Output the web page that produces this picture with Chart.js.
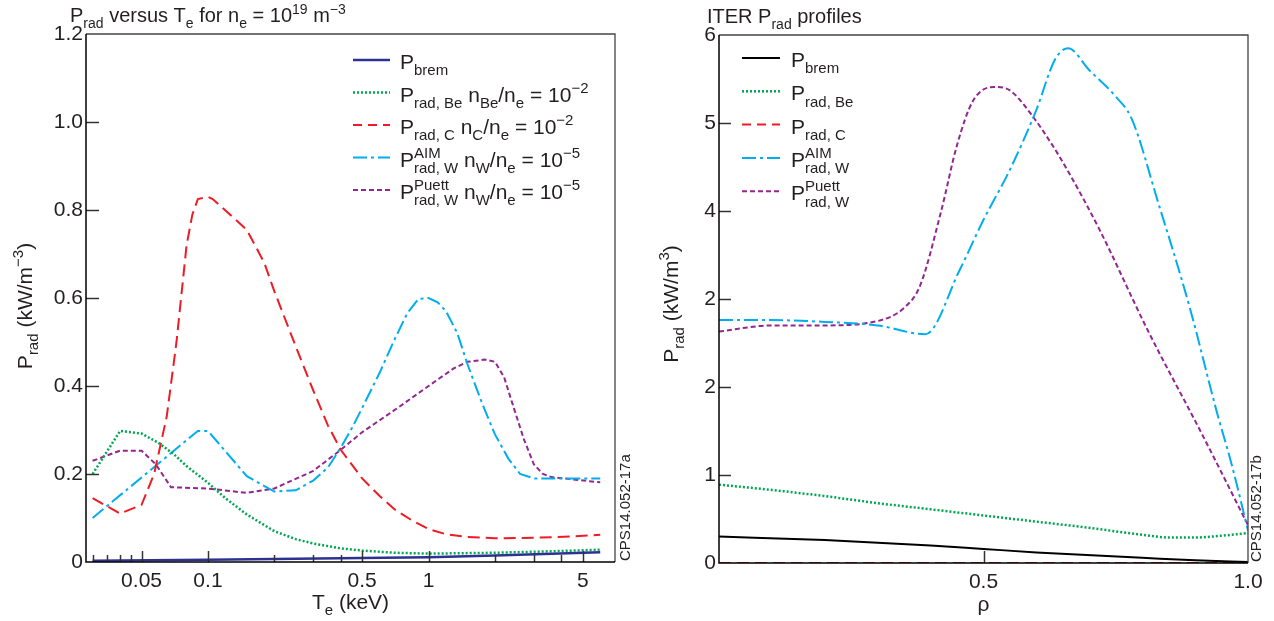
<!DOCTYPE html>
<html>
<head>
<meta charset="utf-8">
<script src="https://cdn.jsdelivr.net/npm/chart.js@4.4.1/dist/chart.umd.min.js"></script>
<style>
  html, body { margin: 0; padding: 0; background: #fff; }
  #wrap { position: relative; width: 1274px; height: 621px; }
  .panel { position: absolute; top: 0; height: 621px; }
  #left { left: 0; width: 640px; }
  #right { left: 640px; width: 634px; }
</style>
</head>
<body>
<div id="wrap">
  <div class="panel" id="left"><canvas id="c1"></canvas></div>
  <div class="panel" id="right"><canvas id="c2"></canvas></div>
</div>
<script>
// ---- left panel: P_rad versus T_e (keV), log x axis
const teTicks = [0.03, 0.035, 0.04, 0.045, 0.05, 0.1, 0.2, 0.3, 0.4, 0.5, 1, 2, 3, 4, 5];
const teTickLabels = ['', '', '', '', '0.05', '0.1', '', '', '', '0.5', '1', '', '', '', '5'];
const pTicksLeft = [0, 0.2, 0.4, 0.6, 0.8, 1.0, 1.2];
const pTickLabelsLeft = ['0', '0.2', '0.4', '0.6', '0.8', '1.0', '1.2'];

const teBrem = [0.03, 0.1, 0.5, 1, 2, 6];
const pBrem = [0.003, 0.005, 0.009, 0.011, 0.015, 0.022];

const teBe = [0.03, 0.04, 0.05, 0.06, 0.07, 0.08, 0.1, 0.12, 0.15, 0.2, 0.25, 0.3, 0.4, 0.5, 0.7, 1.0, 2.0, 4.0, 6.0];
const pBe = [0.2, 0.298, 0.292, 0.27, 0.245, 0.218, 0.18, 0.145, 0.108, 0.07, 0.052, 0.042, 0.031, 0.026, 0.021, 0.019, 0.021, 0.025, 0.028];

const teC = [0.03, 0.04, 0.05, 0.057, 0.065, 0.072, 0.08, 0.085, 0.09, 0.1, 0.105, 0.15, 0.18, 0.2, 0.25, 0.3, 0.35, 0.4, 0.5, 0.6, 0.7, 0.85, 1.0, 1.2, 1.5, 2.0, 3.0, 4.5, 6.0];
const pC = [0.145, 0.11, 0.13, 0.2, 0.33, 0.5, 0.72, 0.79, 0.825, 0.83, 0.825, 0.755, 0.68, 0.615, 0.49, 0.39, 0.31, 0.255, 0.19, 0.15, 0.12, 0.093, 0.075, 0.063, 0.057, 0.054, 0.055, 0.058, 0.062];

const teAim = [0.03, 0.09, 0.1, 0.15, 0.2, 0.25, 0.3, 0.35, 0.4, 0.45, 0.5, 0.6, 0.7, 0.8, 0.9, 1.0, 1.1, 1.2, 1.35, 1.5, 1.75, 2.0, 2.3, 2.6, 3.0, 6.0];
const pAim = [0.10, 0.298, 0.298, 0.195, 0.16, 0.163, 0.185, 0.215, 0.26, 0.305, 0.35, 0.43, 0.505, 0.565, 0.598, 0.6, 0.59, 0.57, 0.52, 0.45, 0.36, 0.29, 0.235, 0.2, 0.19, 0.19];

const tePuett = [0.03, 0.04, 0.05, 0.058, 0.068, 0.1, 0.15, 0.2, 0.3, 0.4, 0.5, 0.7, 1.0, 1.3, 1.5, 1.8, 2.0, 2.2, 2.4, 2.7, 3.0, 3.3, 3.6, 6.0];
const pPuett = [0.23, 0.253, 0.253, 0.222, 0.17, 0.167, 0.157, 0.167, 0.207, 0.255, 0.295, 0.345, 0.40, 0.44, 0.455, 0.46, 0.455, 0.42, 0.36, 0.28, 0.222, 0.2, 0.193, 0.181];

// ---- right panel: ITER P_rad profiles vs rho
const rhoTicks = [0.5, 1.0];
const rhoTickLabels = ['0.5', '1.0'];
const pTicksRight = [0, 1, 2, 3, 4, 5, 6];
const pTickLabelsRight = ['0', '1', '2', '2', '4', '5', '6'];   // as printed in the original

const rhoBrem = [0, 0.2, 0.4, 0.5, 0.6, 0.8, 0.9, 1.0];
const prBrem = [0.3, 0.26, 0.2, 0.16, 0.12, 0.06, 0.03, 0.01];

const rhoBe = [0, 0.1, 0.2, 0.3, 0.4, 0.5, 0.6, 0.7, 0.8, 0.85, 0.9, 0.95, 1.0];
const prBe = [0.89, 0.83, 0.76, 0.68, 0.61, 0.54, 0.47, 0.4, 0.32, 0.29, 0.29, 0.31, 0.34];

const rhoC = [0, 1.0];
const prC = [0, 0];

const rhoAim = [0, 0.1, 0.2, 0.3, 0.39, 0.455, 0.5, 0.55, 0.6, 0.635, 0.66, 0.7, 0.75, 0.78, 0.83, 0.89, 0.94, 0.97, 1.0];
const prAim = [2.76, 2.76, 2.74, 2.7, 2.6, 3.33, 3.9, 4.47, 5.15, 5.72, 5.85, 5.6, 5.3, 5.05, 4.1, 2.9, 1.74, 1.1, 0.37];

const rhoPuett = [0, 0.1, 0.2, 0.3, 0.35, 0.38, 0.42, 0.45, 0.48, 0.52, 0.55, 0.59, 0.63, 0.66, 0.72, 0.81, 0.91, 1.0];
const prPuett = [2.63, 2.7, 2.7, 2.75, 2.9, 3.15, 4.0, 4.75, 5.25, 5.41, 5.37, 5.1, 4.75, 4.45, 3.78, 2.65, 1.5, 0.43];

const FONT = "'Liberation Sans', Arial, sans-serif";
const INK = '#231f20';
Chart.defaults.font.family = FONT;
Chart.defaults.font.size = 21;
Chart.defaults.color = INK;

function pts(xs, ys) {
    return xs.map((x, i) => ({ x: x, y: ys[i] }));
}

// rich text: strings are normal, objects carry sub / sup parts
function richWidth(ctx, segs, size) {
    let w = 0;
    for (const s of segs) {
        if (typeof s === 'string') {
            ctx.font = size + 'px ' + FONT;
            w += ctx.measureText(s).width;
        } else {
            ctx.font = Math.round(size * 0.7) + 'px ' + FONT;
            const a = s.sub ? ctx.measureText(s.sub).width : 0;
            const b = s.sup ? ctx.measureText(s.sup).width : 0;
            w += Math.max(a, b);
        }
    }
    return w;
}

function drawRich(ctx, segs, x, y, size) {
    let cx = x;
    ctx.textAlign = 'left';
    ctx.textBaseline = 'alphabetic';
    ctx.fillStyle = INK;
    for (const s of segs) {
        if (typeof s === 'string') {
            ctx.font = size + 'px ' + FONT;
            ctx.fillText(s, cx, y);
            cx += ctx.measureText(s).width;
        } else {
            ctx.font = Math.round(size * 0.7) + 'px ' + FONT;
            let w = 0;
            if (s.sub) {
                ctx.fillText(s.sub, cx, y + size * 0.3);
                w = ctx.measureText(s.sub).width;
            }
            if (s.sup) {
                ctx.fillText(s.sup, cx, y - size * 0.42);
                w = Math.max(w, ctx.measureText(s.sup).width);
            }
            cx += w;
        }
    }
}

// frame, inward ticks, titles, legend and the figure code
const decoPlugin = {
    id: 'deco',
    afterDraw(chart, args, opts) {
        const ctx = chart.ctx;
        const a = chart.chartArea;
        const xs = chart.scales.x, ys = chart.scales.y;
        ctx.save();

        // inward ticks
        ctx.strokeStyle = '#333';
        ctx.lineWidth = 1.5;
        ctx.setLineDash([]);
        ys.ticks.forEach(t => {
            const py = Math.round(ys.getPixelForValue(t.value)) + 0.5;
            if (py < a.top + 2 || py > a.bottom - 2) return;
            ctx.beginPath();
            ctx.moveTo(a.left, py);
            ctx.lineTo(a.left + opts.tickY, py);
            ctx.stroke();
        });
        xs.ticks.forEach(t => {
            const px = Math.round(xs.getPixelForValue(t.value)) + 0.5;
            if (px < a.left + 2 || px > a.right - 2) return;
            const len = t.label ? opts.tickXMajor : opts.tickXMinor;
            ctx.beginPath();
            ctx.moveTo(px, a.bottom);
            ctx.lineTo(px, a.bottom - len);
            ctx.stroke();
        });

        // frame
        ctx.strokeStyle = '#444';
        ctx.lineWidth = 1.3;
        ctx.beginPath();
        ctx.moveTo(a.left, a.top);
        ctx.lineTo(a.right, a.top);
        ctx.lineTo(a.right, a.bottom);
        ctx.stroke();
        ctx.strokeStyle = '#000';
        ctx.lineWidth = 1.5;
        ctx.beginPath();
        ctx.moveTo(a.left, a.top);
        ctx.lineTo(a.left, a.bottom);
        ctx.lineTo(a.right, a.bottom);
        ctx.stroke();

        // titles
        drawRich(ctx, opts.title.segs, opts.title.x, opts.title.y, opts.title.size);
        const xw = richWidth(ctx, opts.xTitle.segs, opts.xTitle.size);
        drawRich(ctx, opts.xTitle.segs, (a.left + a.right) / 2 - xw / 2, opts.xTitle.y, opts.xTitle.size);
        const yw = richWidth(ctx, opts.yTitle.segs, opts.yTitle.size);
        ctx.save();
        ctx.translate(opts.yTitle.x, opts.yTitle.y);
        ctx.rotate(-Math.PI / 2);
        drawRich(ctx, opts.yTitle.segs, -yw / 2, 0, opts.yTitle.size);
        ctx.restore();

        // legend
        const lg = opts.legend;
        lg.entries.forEach((segs, i) => {
            const ds = chart.data.datasets[i];
            const ly = lg.y + i * lg.dy;
            ctx.strokeStyle = ds.borderColor;
            ctx.lineWidth = ds.borderWidth;
            ctx.setLineDash(ds.legendDash || ds.borderDash || []);
            ctx.beginPath();
            ctx.moveTo(lg.x, ly);
            ctx.lineTo(lg.x + lg.len, ly);
            ctx.stroke();
            ctx.setLineDash([]);
            drawRich(ctx, segs, lg.x + lg.len + lg.gap, ly + 9, lg.size);
        });

        // figure code, vertical
        ctx.save();
        ctx.translate(opts.code.x, a.bottom - 1);
        ctx.rotate(-Math.PI / 2);
        ctx.font = '15px ' + FONT;
        ctx.fillStyle = INK;
        ctx.textAlign = 'left';
        ctx.textBaseline = 'alphabetic';
        ctx.fillText(opts.code.text, 0, 0);
        ctx.restore();

        ctx.restore();
    }
};

function axisCommon() {
    return {
        grid: { display: false, drawTicks: false },
        border: { display: false }
    };
}

// ---------------- left chart (straight segments between the points)
new Chart(document.getElementById('c1'), {
    type: 'line',
    data: {
        datasets: [
            { data: pts(teBrem, pBrem), borderColor: '#2e3192', borderWidth: 2.5 },
            { data: pts(teBe, pBe), borderColor: '#00a651', borderWidth: 2.5, borderDash: [2, 2] },
            { data: pts(teC, pC), borderColor: '#ed1c24', borderWidth: 2, borderDash: [12, 6], legendDash: [9, 6] },
            { data: pts(teAim, pAim), borderColor: '#00aeef', borderWidth: 2, borderDash: [14, 4, 3, 4] },
            { data: pts(tePuett, pPuett), borderColor: '#92278f', borderWidth: 2, borderDash: [5, 3] }
        ]
    },
    options: {
        responsive: true,
        maintainAspectRatio: false,
        animation: false,
        devicePixelRatio: 1,
        layout: { padding: { left: 0, top: 34, right: 25, bottom: 0 } },
        elements: { point: { radius: 0 }, line: { tension: 0, fill: false } },
        plugins: {
            legend: { display: false },
            tooltip: { enabled: false },
            deco: {
                tickY: 13, tickXMajor: 11, tickXMinor: 7,
                title: { segs: ['P', { sub: 'rad' }, ' versus T', { sub: 'e' }, ' for n', { sub: 'e' }, ' = 10', { sup: '19' }, ' m', { sup: '\u22123' }], x: 70, y: 22, size: 20 },
                xTitle: { segs: ['T', { sub: 'e' }, ' (keV)'], y: 609, size: 21 },
                yTitle: { segs: ['P', { sub: 'rad' }, ' (kW/m', { sup: '\u22123' }, ')'], x: 32, y: 306, size: 21 },
                legend: {
                    x: 353, y: 60, dy: 32.5, len: 37, gap: 10, size: 21,
                    entries: [
                        ['P', { sub: 'brem' }],
                        ['P', { sub: 'rad, Be' }, ' n', { sub: 'Be' }, '/n', { sub: 'e' }, ' = 10', { sup: '\u22122' }],
                        ['P', { sub: 'rad, C' }, ' n', { sub: 'C' }, '/n', { sub: 'e' }, ' = 10', { sup: '\u22122' }],
                        ['P', { sub: 'rad, W', sup: 'AIM' }, ' n', { sub: 'W' }, '/n', { sub: 'e' }, ' = 10', { sup: '\u22125' }],
                        ['P', { sub: 'rad, W', sup: 'Puett' }, ' n', { sub: 'W' }, '/n', { sub: 'e' }, ' = 10', { sup: '\u22125' }]
                    ]
                },
                code: { text: 'CPS14.052-17a', x: 630 }
            }
        },
        scales: {
            x: Object.assign(axisCommon(), {
                type: 'logarithmic',
                min: 0.028,
                max: 7,
                afterBuildTicks: s => { s.ticks = teTicks.map(v => ({ value: v })); },
                afterFit: s => { s.height = 59; },
                ticks: { autoSkip: false, maxRotation: 0, padding: 7, callback: (v, i) => teTickLabels[i] }
            }),
            y: Object.assign(axisCommon(), {
                type: 'linear',
                min: 0,
                max: 1.2,
                afterBuildTicks: s => { s.ticks = pTicksLeft.map(v => ({ value: v })); },
                afterFit: s => { s.width = 86; },
                ticks: { autoSkip: false, padding: 3, callback: (v, i) => pTickLabelsLeft[i] }
            })
        }
    },
    plugins: [decoPlugin]
});

// ---------------- right chart (smooth profiles)
new Chart(document.getElementById('c2'), {
    type: 'line',
    data: {
        datasets: [
            { data: pts(rhoBrem, prBrem), borderColor: '#000000', borderWidth: 2 },
            { data: pts(rhoBe, prBe), borderColor: '#00a651', borderWidth: 2.5, borderDash: [2, 2] },
            { data: pts(rhoC, prC), borderColor: '#ed1c24', borderWidth: 2, borderDash: [12, 6], legendDash: [9, 6] },
            { data: pts(rhoAim, prAim), borderColor: '#00aeef', borderWidth: 2, borderDash: [14, 4, 3, 4] },
            { data: pts(rhoPuett, prPuett), borderColor: '#92278f', borderWidth: 2, borderDash: [5, 3] }
        ]
    },
    options: {
        responsive: true,
        maintainAspectRatio: false,
        animation: false,
        devicePixelRatio: 1,
        layout: { padding: { left: 0, top: 35, right: 26, bottom: 0 } },
        elements: { point: { radius: 0 }, line: { cubicInterpolationMode: 'monotone', fill: false } },
        plugins: {
            legend: { display: false },
            tooltip: { enabled: false },
            deco: {
                tickY: 12, tickXMajor: 12, tickXMinor: 12,
                title: { segs: ['ITER P', { sub: 'rad' }, ' profiles'], x: 67, y: 23, size: 20 },
                xTitle: { segs: ['\u03c1'], y: 611, size: 21 },
                yTitle: { segs: ['P', { sub: 'rad' }, ' (kW/m', { sup: '3' }, ')'], x: 38, y: 304, size: 21 },
                legend: {
                    x: 102, y: 58, dy: 33.3, len: 38, gap: 11, size: 21,
                    entries: [
                        ['P', { sub: 'brem' }],
                        ['P', { sub: 'rad, Be' }],
                        ['P', { sub: 'rad, C' }],
                        ['P', { sub: 'rad, W', sup: 'AIM' }],
                        ['P', { sub: 'rad, W', sup: 'Puett' }]
                    ]
                },
                code: { text: 'CPS14.052-17b', x: 621 }
            }
        },
        scales: {
            x: Object.assign(axisCommon(), {
                type: 'linear',
                min: 0,
                max: 1,
                afterBuildTicks: s => { s.ticks = rhoTicks.map(v => ({ value: v })); },
                afterFit: s => { s.height = 58; },
                ticks: { autoSkip: false, maxRotation: 0, padding: 7, callback: (v, i) => rhoTickLabels[i] }
            }),
            y: Object.assign(axisCommon(), {
                type: 'linear',
                min: 0,
                max: 6,
                afterBuildTicks: s => { s.ticks = pTicksRight.map(v => ({ value: v })); },
                afterFit: s => { s.width = 79; },
                ticks: { autoSkip: false, padding: 3, callback: (v, i) => pTickLabelsRight[i] }
            })
        }
    },
    plugins: [decoPlugin]
});
</script>
</body>
</html>
